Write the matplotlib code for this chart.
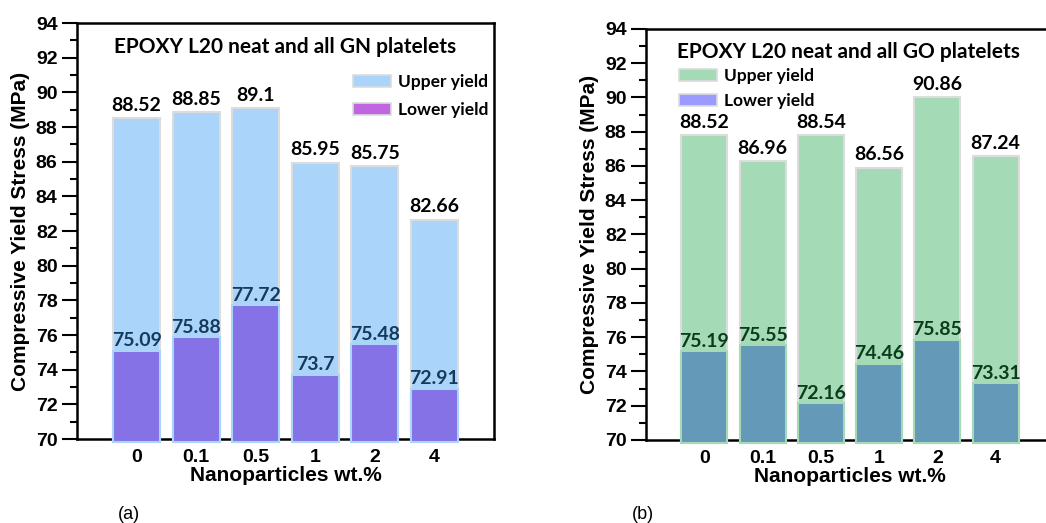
import matplotlib
matplotlib.use("Agg")
import matplotlib.pyplot as plt
from matplotlib.patches import Patch
from matplotlib.ticker import MultipleLocator

# data
wt = ["0", "0.1", "0.5", "1", "2", "4"]

gn_upper = [88.52, 88.85, 89.1, 85.95, 85.75, 82.66]
gn_lower = [75.09, 75.88, 77.72, 73.7, 75.48, 72.91]

# GO bars are drawn a bit lower than the numbers printed above them
go_upper_bar = [87.8, 86.3, 87.8, 85.9, 90.0, 86.6]
go_upper_lbl = [88.52, 86.96, 88.54, 86.56, 90.86, 87.24]
go_lower = [75.19, 75.55, 72.16, 74.46, 75.85, 73.31]

Y_MIN, Y_MAX = 70, 94

LBL_FONT = ["Lato", "DejaVu Sans"]
AX_FONT = ["Liberation Sans", "DejaVu Sans"]

fig = plt.figure(figsize=(10.46, 5.23), dpi=100)


def panel(rect, upper_bar, upper_lbl, lower, c_up, c_low, c_leg_low, c_txt,
          title, title_xy, leg_anchor, leg_space, tag, tag_x):
    ax = fig.add_axes(rect)
    x = list(range(len(wt)))
    ax.bar(x, [u - Y_MIN + 0.15 for u in upper_bar], bottom=Y_MIN - 0.15, width=0.79,
           color=c_up, edgecolor="#dcdcdc", linewidth=1.5, zorder=3, clip_on=False)
    ax.bar(x, [l - Y_MIN + 0.15 for l in lower], bottom=Y_MIN - 0.15, width=0.79,
           color=c_low, edgecolor=c_up, linewidth=1.5, zorder=4, clip_on=False)
    for i in x:
        ax.annotate(f"{upper_lbl[i]}", (i, upper_bar[i]), xytext=(0, 3),
                    textcoords="offset points", ha="center", va="bottom",
                    fontsize=14, fontweight="bold", family=LBL_FONT, color="black", zorder=5)
        ax.annotate(f"{lower[i]}", (i, lower[i]), xytext=(0, 1),
                    textcoords="offset points", ha="center", va="bottom",
                    fontsize=14, fontweight="bold", family=LBL_FONT, color=c_txt, zorder=5)

    ax.set_xlim(-1, 6)
    ax.set_ylim(Y_MIN, Y_MAX)
    ax.yaxis.set_major_locator(MultipleLocator(2))
    ax.yaxis.set_minor_locator(MultipleLocator(1))
    ax.set_xticks(x)
    ax.set_xticklabels(wt)
    ax.tick_params(axis="y", which="major", length=11, width=1.5, direction="out", pad=3,
                   labelsize=14, labelfontfamily=AX_FONT)
    ax.tick_params(axis="y", which="minor", length=5, width=1.5, direction="out")
    ax.tick_params(axis="x", length=0, pad=7, labelsize=14, labelfontfamily=AX_FONT)
    for t in ax.get_xticklabels() + ax.get_yticklabels():
        t.set_fontweight("bold")
    for s in ax.spines.values():
        s.set_linewidth(1.8)

    ax.set_ylabel("Compressive Yield Stress (MPa)", fontsize=15, fontweight="bold",
                  family=AX_FONT, labelpad=4)
    ax.set_xlabel("Nanoparticles wt.%", fontsize=15, fontweight="bold",
                  family=AX_FONT, labelpad=0)

    ax.text(title_xy[0], title_xy[1], title, transform=ax.transAxes, ha="center",
            va="center", fontsize=15, fontweight="bold", family=LBL_FONT)

    handles = [Patch(facecolor=c_up, edgecolor="#dcdcdc", linewidth=1.2),
               Patch(facecolor=c_leg_low, edgecolor="#dcdcdc", linewidth=1.2)]
    ax.legend(handles, ["Upper yield", "Lower yield"], loc="upper left",
              bbox_to_anchor=leg_anchor, frameon=False, borderpad=0,
              borderaxespad=0, handlelength=2.2, handleheight=0.7,
              handletextpad=0.4, labelspacing=leg_space,
              prop={"family": LBL_FONT, "weight": "bold", "size": 12.5})

    fig.text(tag_x, 0.0, tag, fontsize=13, family=AX_FONT, ha="left", va="bottom")
    return ax


panel([0.0736, 0.1606, 0.3987, 0.7954], gn_upper, gn_upper, gn_lower,
      "#aad4fa", "#8472e6", "#c066e0", "#163a5c",
      "EPOXY L20 neat and all GN platelets", (0.499, 0.943),
      (0.662, 0.878), 0.7, "(a)", 0.113)

panel([0.6176, 0.1587, 0.390, 0.786], go_upper_bar, go_upper_lbl, go_lower,
      "#a5dab6", "#6499b8", "#9b9bff", "#0c3b1c",
      "EPOXY L20 neat and all GO platelets", (0.495, 0.945),
      (0.081, 0.905), 0.5, "(b)", 0.604)

fig.savefig("out.png", dpi=100)
